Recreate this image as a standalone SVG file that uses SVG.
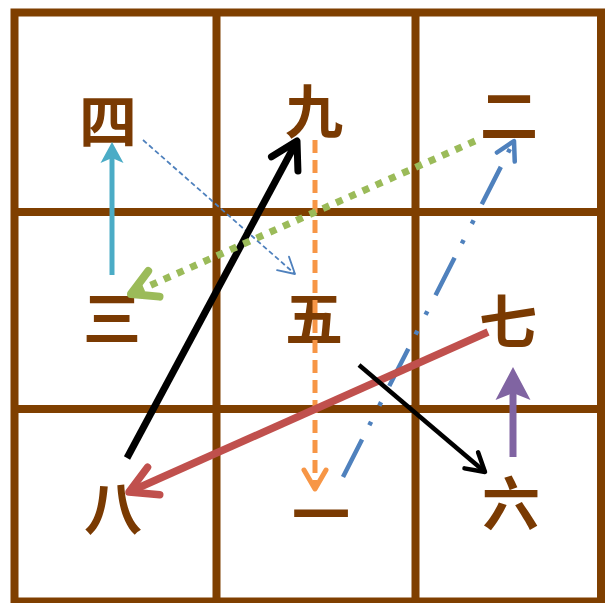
<svg xmlns="http://www.w3.org/2000/svg" width="605" height="603" viewBox="0 0 605 603">
<style>
.grid{fill:none;stroke:#7F3F00;stroke-width:8}
.num{font-family:"Noto Sans CJK SC","Noto Sans CJK TC",sans-serif;font-weight:700;font-size:58px;fill:#7A3A02;text-anchor:middle;dominant-baseline:central}
.c{fill:none;stroke-linecap:butt}
.vh{fill:none;stroke-linejoin:round;stroke-linecap:round}
</style>
<defs>
<marker id="vBlack7" markerUnits="userSpaceOnUse" viewBox="-40 -25 50 50" markerWidth="50" markerHeight="50" refX="0" refY="0" orient="auto" overflow="visible"><path class="vh" d="M-26,-15 L0,0 L-26,15" stroke="#000" stroke-width="7"/></marker>
<marker id="vBlack4" markerUnits="userSpaceOnUse" viewBox="-40 -25 50 50" markerWidth="50" markerHeight="50" refX="0" refY="0" orient="auto" overflow="visible"><path class="vh" d="M-18,-10.5 L0,0 L-18,10.5" stroke="#000" stroke-width="4.5"/></marker>
<marker id="vRed" markerUnits="userSpaceOnUse" viewBox="-40 -25 50 50" markerWidth="50" markerHeight="50" refX="0" refY="0" orient="auto" overflow="visible"><path class="vh" d="M-27,-15 L0,0 L-27,15" stroke="#C0504D" stroke-width="7.5"/></marker>
<marker id="vGreen" markerUnits="userSpaceOnUse" viewBox="-40 -25 50 50" markerWidth="50" markerHeight="50" refX="0" refY="0" orient="auto" overflow="visible"><path class="vh" d="M-25,-14 L0,0 L-25,14" stroke="#9BBB59" stroke-width="8"/></marker>
<marker id="vOrange" markerUnits="userSpaceOnUse" viewBox="-40 -25 50 50" markerWidth="50" markerHeight="50" refX="0" refY="0" orient="auto" overflow="visible"><path class="vh" d="M-19,-11 L0,0 L-19,11" stroke="#F79646" stroke-width="5"/></marker>
<marker id="vBlue4" markerUnits="userSpaceOnUse" viewBox="-40 -25 50 50" markerWidth="50" markerHeight="50" refX="0" refY="0" orient="auto" overflow="visible"><path class="vh" d="M-18,-10 L0,0 L-18,10" stroke="#4F81BD" stroke-width="4.5"/></marker>
<marker id="vBlue1" markerUnits="userSpaceOnUse" viewBox="-40 -25 50 50" markerWidth="50" markerHeight="50" refX="0" refY="0" orient="auto" overflow="visible"><path class="vh" d="M-16,-9 L0,0 L-16,9" stroke="#4F81BD" stroke-width="1.8"/></marker>
<marker id="tCyan" markerUnits="userSpaceOnUse" viewBox="-40 -25 50 50" markerWidth="50" markerHeight="50" refX="-15" refY="0" orient="auto" overflow="visible"><path d="M0,0 L-21,-11.5 L-16,0 L-21,11.5 Z" fill="#4BACC6"/></marker>
<marker id="tPurple" markerUnits="userSpaceOnUse" viewBox="-40 -25 50 50" markerWidth="50" markerHeight="50" refX="-24" refY="0" orient="auto" overflow="visible"><path d="M0,0 L-33,-17.5 L-26,0 L-33,17.5 Z" fill="#8064A2"/></marker>
</defs>
<rect width="605" height="603" fill="#fff"/>
<g id="grid">
<rect class="grid" x="14.5" y="12.5" width="586.5" height="589"/>
<line class="grid" x1="216.5" y1="12" x2="216.5" y2="602"/>
<line class="grid" x1="415.5" y1="12" x2="415.5" y2="602"/>
<line class="grid" x1="14" y1="212" x2="602" y2="212"/>
<line class="grid" x1="14" y1="409" x2="602" y2="409"/>
</g>
<g id="n4"><text class="num" x="108" y="118">四</text></g>
<g id="n9"><text class="num" x="314" y="108">九</text></g>
<g id="n2"><text class="num" x="509" y="112">二</text></g>
<g id="n3"><text class="num" x="112" y="315">三</text></g>
<g id="n5"><text class="num" x="314" y="315">五</text></g>
<g id="n7"><text class="num" x="508" y="318">七</text></g>
<g id="n8"><text class="num" x="113" y="505">八</text></g>
<g id="n1"><text class="num" x="321" y="511">一</text></g>
<g id="n6"><text class="num" x="511" y="500">六</text></g>
<g id="connectors">
<line class="c" x1="112" y1="275" x2="112" y2="157" stroke="#4BACC6" stroke-width="5" marker-end="url(#tCyan)"/>
<line class="c" x1="143" y1="140" x2="295" y2="274" stroke="#4F81BD" stroke-width="1.8" stroke-dasharray="5 3" marker-end="url(#vBlue1)"/>
<line class="c" x1="127" y1="458" x2="297" y2="141" stroke="#000" stroke-width="7" marker-end="url(#vBlack7)"/>
<line class="c" x1="315" y1="140" x2="315" y2="489" stroke="#F79646" stroke-width="5" stroke-dasharray="13 7" marker-end="url(#vOrange)"/>
<line class="c" x1="475" y1="141" x2="131" y2="294" stroke="#9BBB59" stroke-width="7" stroke-dasharray="7 7.5" marker-end="url(#vGreen)"/>
<line class="c" x1="343" y1="477" x2="514" y2="141" stroke="#4F81BD" stroke-width="4.5" stroke-dasharray="42 16 4 18 4 18" marker-end="url(#vBlue4)"/>
<line class="c" x1="488" y1="332" x2="129" y2="492" stroke="#C0504D" stroke-width="7.5" marker-end="url(#vRed)"/>
<line class="c" x1="359" y1="365" x2="485" y2="472" stroke="#000" stroke-width="4.5" marker-end="url(#vBlack4)"/>
<line class="c" x1="513" y1="457" x2="513" y2="391" stroke="#8064A2" stroke-width="7" marker-end="url(#tPurple)"/>
</g>
</svg>
